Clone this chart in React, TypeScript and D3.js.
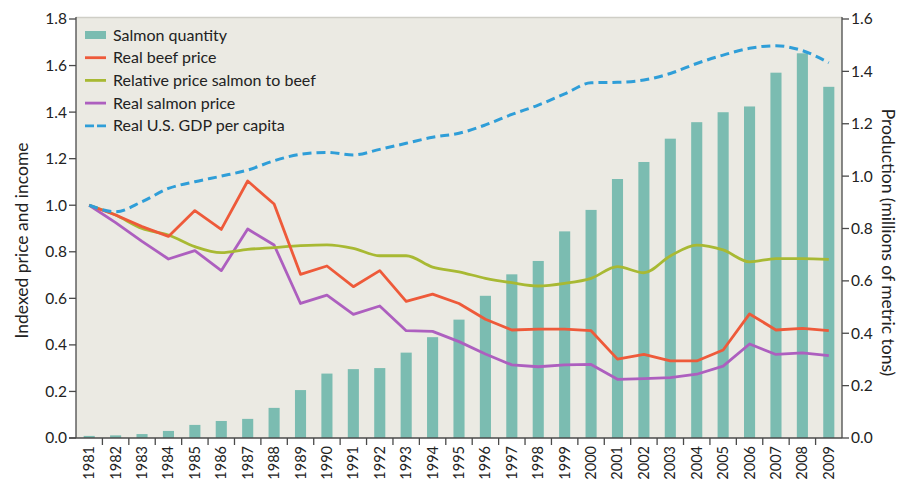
import React from "react";
import * as d3 from "d3";

const years = [
  1981, 1982, 1983, 1984, 1985, 1986, 1987, 1988, 1989, 1990, 1991, 1992, 1993, 1994, 1995,
  1996, 1997, 1998, 1999, 2000, 2001, 2002, 2003, 2004, 2005, 2006, 2007, 2008, 2009,
];
const salmonQuantity = [
  0.008, 0.01, 0.015, 0.027, 0.05, 0.065, 0.073, 0.115, 0.183, 0.246, 0.263, 0.267, 0.326,
  0.385, 0.452, 0.543, 0.625, 0.676, 0.789, 0.871, 0.989, 1.054, 1.143, 1.206, 1.244, 1.266,
  1.395, 1.469, 1.341,
];
const beefPrice = [
  1.0, 0.958, 0.908, 0.866, 0.977, 0.896, 1.104, 1.005, 0.703, 0.739, 0.65, 0.719, 0.587,
  0.618, 0.578, 0.51, 0.464, 0.468, 0.468, 0.461, 0.339, 0.359, 0.331, 0.331, 0.378, 0.533,
  0.464, 0.471, 0.461,
];
const relativePrice = [
  1.0, 0.958, 0.9, 0.872, 0.822, 0.796, 0.81, 0.818, 0.826, 0.83, 0.815, 0.783, 0.783, 0.734,
  0.714, 0.686, 0.667, 0.653, 0.664, 0.686, 0.736, 0.71, 0.782, 0.829, 0.808, 0.757, 0.771,
  0.771, 0.767,
];
const salmonPrice = [
  1.0, 0.925, 0.845, 0.769, 0.805, 0.719, 0.898, 0.829, 0.578, 0.614, 0.531, 0.567, 0.461,
  0.458, 0.414, 0.361, 0.314, 0.306, 0.314, 0.316, 0.252, 0.255, 0.259, 0.274, 0.309, 0.404,
  0.359, 0.366, 0.354,
];
const gdpPerCapita = [
  1.0, 0.972, 1.015, 1.072, 1.101, 1.125, 1.151, 1.191, 1.219, 1.227, 1.216, 1.24, 1.266,
  1.292, 1.309, 1.345, 1.39, 1.43, 1.478, 1.526, 1.528, 1.538, 1.566, 1.609, 1.645, 1.674,
  1.685, 1.664, 1.612,
];
const leftTicks = [0, 0.2, 0.4, 0.6, 0.8, 1.0, 1.2, 1.4, 1.6, 1.8];
const rightTicks = [0, 0.2, 0.4, 0.6, 0.8, 1.0, 1.2, 1.4, 1.6];
const legendLabels = [
  "Salmon quantity",
  "Real beef price",
  "Relative price salmon to beef",
  "Real salmon price",
  "Real U.S. GDP per capita",
];
const leftTitle = "Indexed price and income";
const rightTitle = "Production (millions of metric tons)";

const W = 904;
const H = 485;
const L = 76;
const R = 842;
const T = 19;
const B = 438;

const C_BAR = "#7bbcb1";
const C_BEEF = "#ee5a3a";
const C_REL = "#a8b933";
const C_SAL = "#ad5fbf";
const C_GDP = "#2f9ed8";
const C_AXIS = "#4a4a4a";
const FONT = "Lato, 'Open Sans', sans-serif";

export default function App() {
  const x = d3
    .scaleBand<number>()
    .domain(years)
    .range([L, R])
    .paddingInner(0.58)
    .paddingOuter(0.29);
  const yL = d3.scaleLinear().domain([0, 1.8]).range([B, T]);
  const yR = d3.scaleLinear().domain([0, 1.6]).range([B, T]);
  const bw = x.bandwidth();
  const step = x.step();
  const cx = (yr: number) => (x(yr) as number) + bw / 2;

  const mkLine = (vals: number[], curve = d3.curveLinear) =>
    d3
      .line<number>()
      .x((_, i) => cx(years[i]))
      .y((v) => yL(v))
      .curve(curve)(vals) as string;

  const legendColors = [C_BAR, C_BEEF, C_REL, C_SAL, C_GDP];

  return (
    <svg width={W} height={H} style={{ display: "block", position: "absolute", left: 0, top: 0 }}>
      <rect x={0} y={0} width={W} height={H} fill="#ffffff" />
      <rect x={L} y={T - 2} width={R - L} height={B - T + 2} fill="#ebeae3" />
      <line x1={L} x2={R} y1={T - 1.5} y2={T - 1.5} stroke="#cfcec6" strokeWidth={1.5} />

      {/* bars */}
      {years.map((yr, i) => (
        <rect
          key={yr}
          x={x(yr)}
          y={yR(salmonQuantity[i])}
          width={bw}
          height={B - yR(salmonQuantity[i])}
          fill={C_BAR}
        />
      ))}

      {/* lines */}
      <path d={mkLine(salmonPrice)} fill="none" stroke={C_SAL} strokeWidth={2.8} strokeLinejoin="round" />
      <path d={mkLine(relativePrice, d3.curveMonotoneX)} fill="none" stroke={C_REL} strokeWidth={2.8} strokeLinejoin="round" />
      <path d={mkLine(beefPrice)} fill="none" stroke={C_BEEF} strokeWidth={2.8} strokeLinejoin="round" />
      <path
        d={mkLine(gdpPerCapita, d3.curveMonotoneX)}
        fill="none"
        stroke={C_GDP}
        strokeWidth={3}
        strokeDasharray="9,5"
      />

      {/* left axis */}
      <line x1={L} x2={L} y1={T - 2} y2={B} stroke={C_AXIS} strokeWidth={1.3} />
      {leftTicks.map((t) => (
        <g key={t}>
          <line x1={L - 7} x2={L} y1={yL(t)} y2={yL(t)} stroke={C_AXIS} strokeWidth={1.3} />
          <text
            x={L - 9}
            y={yL(t)}
            dy="0.35em"
            textAnchor="end"
            fontFamily={FONT}
            fontSize={15.5}
            fill="#222"
          >
            {d3.format(".1f")(t)}
          </text>
        </g>
      ))}

      {/* right axis */}
      <line x1={R} x2={R} y1={T - 2} y2={B} stroke={C_AXIS} strokeWidth={1.3} />
      {rightTicks.map((t) => (
        <g key={t}>
          <line x1={R} x2={R + 7} y1={yR(t)} y2={yR(t)} stroke={C_AXIS} strokeWidth={1.3} />
          <text
            x={R + 9}
            y={yR(t)}
            dy="0.35em"
            textAnchor="start"
            fontFamily={FONT}
            fontSize={15.5}
            fill="#222"
          >
            {d3.format(".1f")(t)}
          </text>
        </g>
      ))}

      {/* bottom axis */}
      <line x1={L - 7} x2={R} y1={B} y2={B} stroke={C_AXIS} strokeWidth={1.3} />
      {years.map((yr) => {
        const bx = (x(yr) as number) - (step - bw) / 2;
        return (
          <g key={yr}>
            {yr !== years[0] && (
              <line x1={bx} x2={bx} y1={B} y2={B + 7} stroke={C_AXIS} strokeWidth={1.3} />
            )}
            <text
              transform={`translate(${cx(yr) + 5},${B + 8}) rotate(-90)`}
              textAnchor="end"
              fontFamily={FONT}
              fontSize={14.5}
              fill="#222"
            >
              {yr}
            </text>
          </g>
        );
      })}

      {/* axis titles */}
      <text
        transform={`translate(28,${(T + B) / 2 + 12}) rotate(-90)`}
        textAnchor="middle"
        fontFamily={FONT}
        fontSize={17.5}
        fill="#222"
      >
        {leftTitle}
      </text>
      <text
        transform={`translate(882,${(T + B) / 2 + 14}) rotate(90)`}
        textAnchor="middle"
        fontFamily={FONT}
        fontSize={17.5}
        fill="#222"
      >
        {rightTitle}
      </text>

      {/* legend */}
      {legendLabels.map((lab, i) => {
        const yy = 35 + i * 22.7;
        return (
          <g key={lab}>
            {i === 0 ? (
              <rect x={85} y={yy - 4} width={21} height={8} fill={C_BAR} />
            ) : (
              <line
                x1={85}
                x2={106}
                y1={yy}
                y2={yy}
                stroke={legendColors[i]}
                strokeWidth={2.8}
                strokeDasharray={i === 4 ? "9,3" : undefined}
              />
            )}
            <text x={113} y={yy} dy="0.35em" fontFamily={FONT} fontSize={16} fill="#222">
              {lab}
            </text>
          </g>
        );
      })}
    </svg>
  );
}
